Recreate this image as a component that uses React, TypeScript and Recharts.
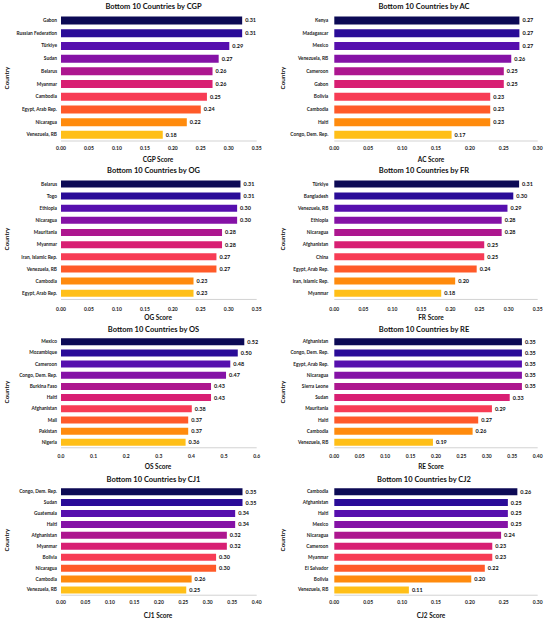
import { BarChart, Bar, XAxis, YAxis, LabelList, Cell } from "recharts";

// same 10-step warm palette in every panel, top bar to bottom bar
const barColors = [
  "#0c0a55",
  "#2a0c98",
  "#560fae",
  "#8512a6",
  "#ad168f",
  "#d81f73",
  "#f73c55",
  "#ff5a29",
  "#ff8b0d",
  "#ffbf18",
];

const cgpCountries = ["Gabon", "Russian Federation", "Türkiye", "Sudan", "Belarus", "Myanmar", "Cambodia", "Egypt, Arab Rep.", "Nicaragua", "Venezuela, RB"];
const cgpScore = [0.324, 0.324, 0.301, 0.282, 0.271, 0.271, 0.261, 0.25, 0.225, 0.182];
const cgpPrinted = [0.31, 0.31, 0.29, 0.27, 0.26, 0.26, 0.25, 0.24, 0.22, 0.18];
const cgpTicks = [0, 0.05, 0.1, 0.15, 0.2, 0.25, 0.3, 0.35];

const acCountries = ["Kenya", "Madagascar", "Mexico", "Venezuela, RB", "Cameroon", "Gabon", "Bolivia", "Cambodia", "Haiti", "Congo, Dem. Rep."];
const acScore = [0.273, 0.273, 0.273, 0.261, 0.25, 0.25, 0.23, 0.23, 0.23, 0.173];
const acPrinted = [0.27, 0.27, 0.27, 0.26, 0.25, 0.25, 0.23, 0.23, 0.23, 0.17];
const acTicks = [0, 0.05, 0.1, 0.15, 0.2, 0.25, 0.3];

const ogCountries = ["Belarus", "Togo", "Ethiopia", "Nicaragua", "Mauritania", "Myanmar", "Iran, Islamic Rep.", "Venezuela, RB", "Cambodia", "Egypt, Arab Rep."];
const ogScore = [0.321, 0.321, 0.315, 0.315, 0.288, 0.288, 0.278, 0.278, 0.237, 0.237];
const ogPrinted = [0.31, 0.31, 0.3, 0.3, 0.28, 0.28, 0.27, 0.27, 0.23, 0.23];
const ogTicks = [0, 0.05, 0.1, 0.15, 0.2, 0.25, 0.3, 0.35];

const frCountries = ["Türkiye", "Bangladesh", "Venezuela, RB", "Ethiopia", "Nicaragua", "Afghanistan", "China", "Egypt, Arab Rep.", "Iran, Islamic Rep.", "Myanmar"];
const frScore = [0.318, 0.308, 0.298, 0.288, 0.288, 0.258, 0.258, 0.245, 0.208, 0.184];
const frPrinted = [0.31, 0.3, 0.29, 0.28, 0.28, 0.25, 0.25, 0.24, 0.2, 0.18];
const frTicks = [0, 0.05, 0.1, 0.15, 0.2, 0.25, 0.3, 0.35];

const osCountries = ["Mexico", "Mozambique", "Cameroon", "Congo, Dem. Rep.", "Burkina Faso", "Haiti", "Afghanistan", "Mali", "Pakistan", "Nigeria"];
const osScore = [0.562, 0.542, 0.519, 0.506, 0.46, 0.46, 0.401, 0.39, 0.39, 0.382];
const osPrinted = [0.52, 0.5, 0.48, 0.47, 0.43, 0.43, 0.38, 0.37, 0.37, 0.36];
const osTicks = [0, 0.1, 0.2, 0.3, 0.4, 0.5, 0.6];

const reCountries = ["Afghanistan", "Congo, Dem. Rep.", "Egypt, Arab Rep.", "Nicaragua", "Sierra Leone", "Sudan", "Mauritania", "Haiti", "Cambodia", "Venezuela, RB"];
const reScore = [0.369, 0.369, 0.369, 0.369, 0.369, 0.345, 0.31, 0.283, 0.272, 0.194];
const rePrinted = [0.35, 0.35, 0.35, 0.35, 0.35, 0.33, 0.29, 0.27, 0.26, 0.19];
const reTicks = [0, 0.05, 0.1, 0.15, 0.2, 0.25, 0.3, 0.35, 0.4];

const cj1Countries = ["Congo, Dem. Rep.", "Sudan", "Guatemala", "Haiti", "Afghanistan", "Myanmar", "Bolivia", "Nicaragua", "Cambodia", "Venezuela, RB"];
const cj1Score = [0.371, 0.371, 0.356, 0.356, 0.339, 0.339, 0.317, 0.317, 0.267, 0.256];
const cj1Printed = [0.35, 0.35, 0.34, 0.34, 0.32, 0.32, 0.3, 0.3, 0.26, 0.25];
const cj1Ticks = [0, 0.05, 0.1, 0.15, 0.2, 0.25, 0.3, 0.35, 0.4];

const cj2Countries = ["Cambodia", "Afghanistan", "Haiti", "Mexico", "Nicaragua", "Cameroon", "Myanmar", "El Salvador", "Bolivia", "Venezuela, RB"];
const cj2Score = [0.27, 0.256, 0.256, 0.256, 0.246, 0.233, 0.233, 0.222, 0.202, 0.11];
const cj2Printed = [0.26, 0.25, 0.25, 0.25, 0.24, 0.23, 0.23, 0.22, 0.2, 0.11];
const cj2Ticks = [0, 0.05, 0.1, 0.15, 0.2, 0.25, 0.3];

const FONT = "Lato, 'Open Sans', sans-serif";

// vertical geometry of the four rows (centres of first/last bar, tick row, axis title, panel title)
const rows = [
  { first: 20.7, last: 135, tickY: 149, xLabelY: 159, titleY: 7 },
  { first: 184, last: 293.3, tickY: 309.3, xLabelY: 317, titleY: 170.7 },
  { first: 341.7, last: 442.3, tickY: 456, xLabelY: 466, titleY: 330 },
  { first: 491, last: 589.3, tickY: 602, xLabelY: 615, titleY: 480 },
];

const cols = [
  { left: 0, yWidth: 61, right: 18.3, gap: 4, titleX: 153.5, xLabelX: 158, yLabelX: 6 },
  { left: 275, yWidth: 59.3, right: 12.3, gap: 6, titleX: 424, xLabelX: 431, yLabelX: 281.7 },
];

// plain one-line country label (the default tick wraps long names)
function CountryTick(props: any) {
  const { x, y, payload } = props;
  return (
    <text
      x={x}
      y={y}
      dy="0.355em"
      textAnchor="end"
      fontSize={4.8}
      fontWeight={700}
      fill="#222"
      fontFamily={FONT}
    >
      {payload.value}
    </text>
  );
}

interface PanelProps {
  code: string;
  countries: string[];
  scores: number[];
  printed: number[];
  ticks: number[];
  decimals: number;
  row: number;
  col: number;
}

function Panel({ code, countries, scores, printed, ticks, decimals, row, col }: PanelProps) {
  const g = rows[row];
  const c = cols[col];
  const band = (g.last - g.first) / 9;
  const plotTop = g.first - band / 2;
  const plotH = band * 10;
  const tickMargin = g.tickY - (plotTop + plotH) - 1.75;
  const data = countries.map((name, i) => ({
    name,
    score: scores[i],
    printed: printed[i].toFixed(2),
  }));
  const text = { fontFamily: FONT, fontWeight: 700, color: "#111" };

  return (
    <>
      <div
        style={{
          ...text,
          position: "absolute",
          left: c.titleX - 100,
          width: 200,
          top: g.titleY - 4,
          fontSize: 7.5,
          lineHeight: "8px",
          textAlign: "center",
        }}
      >
        Bottom 10 Countries by {code}
      </div>
      <div style={{ position: "absolute", left: c.left, top: plotTop }}>
        <BarChart
          width={275}
          height={plotH + 20}
          layout="vertical"
          data={data}
          margin={{ top: 0, right: c.right, bottom: 0, left: 0 }}
          barCategoryGap="20%"
        >
          <XAxis
            type="number"
            domain={[0, ticks[ticks.length - 1]]}
            ticks={ticks}
            interval={0}
            height={20}
            tickFormatter={(v: number) => v.toFixed(decimals)}
            tick={{ fontSize: 5, fontWeight: 700, fill: "#222", fontFamily: FONT }}
            tickLine={false}
            tickSize={0}
            tickMargin={tickMargin}
            axisLine={{ stroke: "#c8c8c8", strokeWidth: 0.8 }}
          />
          <YAxis
            type="category"
            dataKey="name"
            width={c.yWidth}
            interval={0}
            tick={<CountryTick />}
            tickLine={false}
            axisLine={false}
            tickSize={0}
            tickMargin={c.gap}
          />
          <Bar dataKey="score" isAnimationActive={false}>
            {data.map((_, i) => (
              <Cell key={i} fill={barColors[i]} />
            ))}
            <LabelList
              dataKey="printed"
              position="right"
              offset={3}
              style={{ fontSize: 5.5, fontWeight: 700, fill: "#111", fontFamily: FONT }}
            />
          </Bar>
        </BarChart>
      </div>
      <div
        style={{
          ...text,
          position: "absolute",
          left: c.xLabelX - 60,
          width: 120,
          top: g.xLabelY - 3.5,
          fontSize: 6.5,
          lineHeight: "7px",
          textAlign: "center",
        }}
      >
        {code} Score
      </div>
      <div
        style={{
          ...text,
          position: "absolute",
          left: c.yLabelX,
          top: plotTop + plotH / 2,
          fontSize: 6.3,
          lineHeight: "7px",
          whiteSpace: "nowrap",
          transform: "translate(-50%, -50%) rotate(-90deg)",
        }}
      >
        Country
      </div>
    </>
  );
}

export default function App() {
  return (
    <div
      style={{
        position: "absolute",
        left: 0,
        top: 0,
        width: 550,
        height: 627,
        background: "#fff",
        overflow: "hidden",
      }}
    >
      <Panel code="CGP" countries={cgpCountries} scores={cgpScore} printed={cgpPrinted} ticks={cgpTicks} decimals={2} row={0} col={0} />
      <Panel code="AC" countries={acCountries} scores={acScore} printed={acPrinted} ticks={acTicks} decimals={2} row={0} col={1} />
      <Panel code="OG" countries={ogCountries} scores={ogScore} printed={ogPrinted} ticks={ogTicks} decimals={2} row={1} col={0} />
      <Panel code="FR" countries={frCountries} scores={frScore} printed={frPrinted} ticks={frTicks} decimals={2} row={1} col={1} />
      <Panel code="OS" countries={osCountries} scores={osScore} printed={osPrinted} ticks={osTicks} decimals={1} row={2} col={0} />
      <Panel code="RE" countries={reCountries} scores={reScore} printed={rePrinted} ticks={reTicks} decimals={2} row={2} col={1} />
      <Panel code="CJ1" countries={cj1Countries} scores={cj1Score} printed={cj1Printed} ticks={cj1Ticks} decimals={2} row={3} col={0} />
      <Panel code="CJ2" countries={cj2Countries} scores={cj2Score} printed={cj2Printed} ticks={cj2Ticks} decimals={2} row={3} col={1} />
    </div>
  );
}
